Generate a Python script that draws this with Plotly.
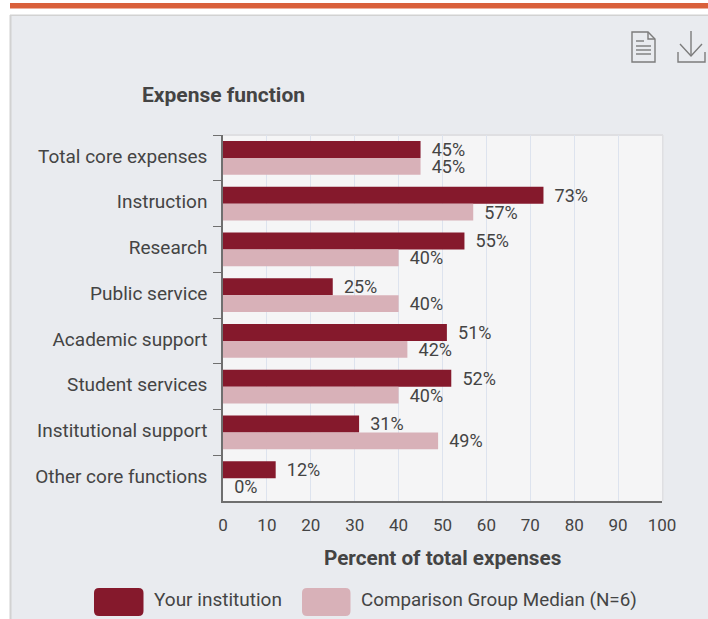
import plotly.graph_objects as go

categories = ["Total core expenses", "Instruction", "Research", "Public service",
              "Academic support", "Student services", "Institutional support", "Other core functions"]
your_institution = [45, 73, 55, 25, 51, 52, 31, 12]
comparison_median = [45, 57, 40, 40, 42, 40, 49, 0]
x_ticks = list(range(0, 101, 10))

W, H = 708, 619
L, R, T, B = 223, 662, 135, 501
DARK = "#85192c"
LIGHT = "#d8b1b8"
PANEL = "#e9ebef"
TEXT = "#444444"
FONT = "Roboto, Arial, sans-serif"


def fx(px):
    return (px - L) / (R - L)


def fy(py):
    return (B - py) / (B - T)


def rect(x0, y0, x1, y1, color):
    return dict(type="rect", xref="paper", yref="paper", x0=fx(x0), x1=fx(x1), y0=fy(y0), y1=fy(y1),
                fillcolor=color, line=dict(width=0), layer="below")


def path(points, color="#7c7c7c", fill=None, width=1.4):
    d = ""
    for p in points:
        if p == "Z":
            d += "Z "
        else:
            d += f"{p[0]} {fx(p[1]):.5f},{fy(p[2]):.5f} "
    return dict(type="path", xref="paper", yref="paper", path=d, line=dict(color=color, width=width),
                fillcolor=fill if fill else "rgba(0,0,0,0)", layer="above")


def swatch(x0, y0, x1, y1, color, r=5):
    d = (f"M {fx(x0+r):.5f},{fy(y0):.5f} L {fx(x1-r):.5f},{fy(y0):.5f} "
         f"Q {fx(x1):.5f},{fy(y0):.5f} {fx(x1):.5f},{fy(y0+r):.5f} "
         f"L {fx(x1):.5f},{fy(y1-r):.5f} Q {fx(x1):.5f},{fy(y1):.5f} {fx(x1-r):.5f},{fy(y1):.5f} "
         f"L {fx(x0+r):.5f},{fy(y1):.5f} Q {fx(x0):.5f},{fy(y1):.5f} {fx(x0):.5f},{fy(y1-r):.5f} "
         f"L {fx(x0):.5f},{fy(y0+r):.5f} Q {fx(x0):.5f},{fy(y0):.5f} {fx(x0+r):.5f},{fy(y0):.5f} Z")
    return dict(type="path", xref="paper", yref="paper", path=d, fillcolor=color, line=dict(width=0), layer="above")


def note(text, px, py, size, anchor="left", color=TEXT):
    return dict(text=text, xref="paper", yref="paper", x=fx(px), y=fy(py), showarrow=False,
                xanchor=anchor, yanchor="middle", font=dict(family=FONT, size=size, color=color))


fig = go.Figure()
for name, vals, col in [("Your institution", your_institution, DARK),
                        ("Comparison Group Median (N=6)", comparison_median, LIGHT)]:
    fig.add_bar(y=categories, x=vals, name=name, orientation="h", marker=dict(color=col, line=dict(width=0)),
                text=[f" \u2009{v}%" for v in vals], textposition="outside", cliponaxis=False,
                constraintext="none", textfont=dict(family=FONT, size=18, color=TEXT))

shapes = [
    rect(0, 0, W, 15, "#ffffff"),
    rect(0, 0, 10, H, "#ffffff"),
    rect(10, 3, W, 8.5, "#d9603b"),
    rect(10, 14.5, W, 16, "#d2d2d2"),
    rect(9.5, 15, 11.5, H, "#d2d2d2"),
    rect(L, T - 1, R + 1, T + 1, "#dfdfe2"),
    rect(R, T, R + 1.5, B, "#dfdfe2"),
    swatch(94, 588, 143.5, 616, DARK),
    swatch(302, 588, 350.5, 616, LIGHT),
    path([("M", 632, 32), ("L", 648, 32), ("L", 655, 39), ("L", 655, 62), ("L", 632, 62), "Z"]),
    path([("M", 648, 32), ("L", 648, 39), ("L", 655, 39)]),
    path([("M", 636, 41), ("L", 644, 41)]),
    path([("M", 636, 46), ("L", 651, 46)]),
    path([("M", 636, 50), ("L", 651, 50)]),
    path([("M", 636, 54), ("L", 651, 54)]),
    path([("M", 691, 31), ("L", 691, 55)]),
    path([("M", 680, 44), ("L", 691, 56), ("L", 702, 44)]),
    path([("M", 678, 52), ("L", 678, 62), ("L", 705, 62), ("L", 705, 52)]),
]

fig.update_layout(
    width=W, height=H, margin=dict(l=L, r=W - R, t=T, b=H - B, pad=0, autoexpand=False),
    paper_bgcolor=PANEL, plot_bgcolor="#f5f5f6",
    barmode="group", bargap=0.26, bargroupgap=0, showlegend=False,
    font=dict(family=FONT, size=18, color=TEXT),
    xaxis=dict(range=[0, 100], tickvals=x_ticks, ticks="", showgrid=True, gridcolor="#dde3ee", gridwidth=1,
               zeroline=False, showline=True, linecolor="#6f6f6f", linewidth=2,
               tickfont=dict(family=FONT, size=17, color=TEXT), ticklabelstandoff=8),
    yaxis=dict(categoryorder="array", categoryarray=categories, autorange="reversed", tickson="boundaries",
               ticks="outside", ticklen=8, tickcolor="#6f6f6f", tickwidth=1.2, showline=True, linecolor="#6f6f6f",
               linewidth=1.5, showgrid=False, zeroline=False, ticklabelstandoff=10, ticklabelshift=2,
               tickfont=dict(family=FONT, size=19, color=TEXT)),
    shapes=shapes,
    annotations=[
        note("<b>Expense function</b>", 223, 95, 21, "center"),
        note("<b>Percent of total expenses</b>", 442, 558, 20.7, "center"),
        note("Your institution", 151.5, 599.5, 19),
        note("Comparison Group Median (N=6)", 358.5, 599.5, 18.8),
    ],
)

fig.write_html("out.html", config=dict(displayModeBar=False),
               post_script="document.body.style.margin='0';document.documentElement.style.overflow='hidden';")
